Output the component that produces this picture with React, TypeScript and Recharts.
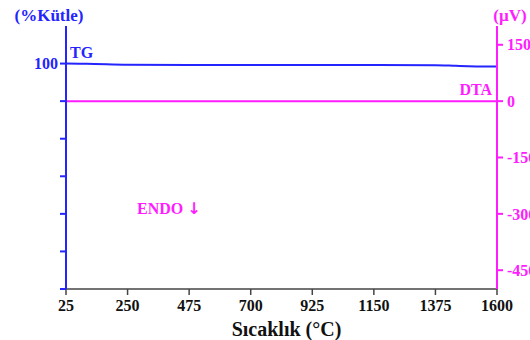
import * as React from "react"
import {
  LineChart,
  Line,
  XAxis,
  YAxis,
  Label,
} from "recharts"

// temperature (°C)
const temps = [25, 100, 250, 475, 700, 925, 1150, 1375, 1450, 1525, 1600]
// TG mass (%)
const tgValues = [100, 99.95, 99.7, 99.6, 99.6, 99.6, 99.6, 99.55, 99.4, 99.25, 99.2]
// DTA signal (µV)
const dtaValues = [0, 0, 0, 0, 0, 0, 0, 0, 0, 0, 0]

const xTicks = [25, 250, 475, 700, 925, 1150, 1375, 1600]
const tgTicks = [40, 50, 60, 70, 80, 90, 100]
const dtaTicks = [150, 0, -150, -300, -450]

const BLUE = "#2424ff"
const MAGENTA = "#ff1cff"
const FONT = "'Liberation Serif', 'Times New Roman', serif"

const data = temps.map((t, i) => ({ t, tg: tgValues[i], dta: dtaValues[i] }))

const textStyle = { fontFamily: FONT, fontWeight: 700, fontSize: 16 }

export default function App() {
  return (
    <div style={{ position: "absolute", left: 0, top: 0, width: 530, height: 340, background: "#fff" }}>
      <LineChart
        width={530}
        height={340}
        data={data}
        margin={{ top: 26, right: 0, bottom: 0, left: 6 }}
      >
        <XAxis
          dataKey="t"
          type="number"
          domain={[25, 1600]}
          ticks={xTicks}
          height={51}
          stroke="#444"
          strokeWidth={1.5}
          tickSize={6}
          tickMargin={5}
          tick={{ ...textStyle, fill: "#111" }}
        >
          <Label
            value="Sıcaklık (°C)"
            position="insideBottom"
            offset={4}
            dx={5}
            style={{ fontFamily: FONT, fontWeight: 700, fontSize: 20, fill: "#111" }}
          />
        </XAxis>
        <YAxis
          yAxisId="tg"
          orientation="left"
          type="number"
          domain={[40, 110]}
          ticks={tgTicks}
          width={60}
          stroke={BLUE}
          strokeWidth={2}
          tickSize={6}
          tickFormatter={(v: number) => (v === 100 ? "100" : "")}
          tick={{ ...textStyle, fill: BLUE }}
        />
        <YAxis
          yAxisId="dta"
          orientation="right"
          type="number"
          domain={[-500, 200]}
          ticks={dtaTicks}
          width={33}
          stroke={MAGENTA}
          strokeWidth={2}
          tickSize={6}
          tickMargin={4}
          tick={{ ...textStyle, fill: MAGENTA }}
        />
        <Line
          yAxisId="dta"
          dataKey="dta"
          type="linear"
          stroke={MAGENTA}
          strokeWidth={2}
          dot={false}
          isAnimationActive={false}
        />
        <Line
          yAxisId="tg"
          dataKey="tg"
          type="monotone"
          stroke={BLUE}
          strokeWidth={2}
          dot={false}
          isAnimationActive={false}
        />
      </LineChart>
      <svg
        width={530}
        height={340}
        style={{ position: "absolute", left: 0, top: 0, pointerEvents: "none" }}
      >
        <text x={49} y={15} textAnchor="middle" dominantBaseline="central" style={{ ...textStyle, fontSize: 17 }} fill={BLUE}>
          (%Kütle)
        </text>
        <text x={70} y={52} dominantBaseline="central" style={textStyle} fill={BLUE}>
          TG
        </text>
        <text x={510} y={15} textAnchor="middle" dominantBaseline="central" style={{ ...textStyle, fontSize: 17 }} fill={MAGENTA}>
          (µV)
        </text>
        <text x={492} y={89} textAnchor="end" dominantBaseline="central" style={textStyle} fill={MAGENTA}>
          DTA
        </text>
        <text x={137} y={208} dominantBaseline="central" style={textStyle} fill={MAGENTA}>
          ENDO{" "}
          <tspan style={{ fontFamily: "'DejaVu Sans', sans-serif", fontWeight: 700, fontSize: 16 }}>↓</tspan>
        </text>
      </svg>
    </div>
  )
}
